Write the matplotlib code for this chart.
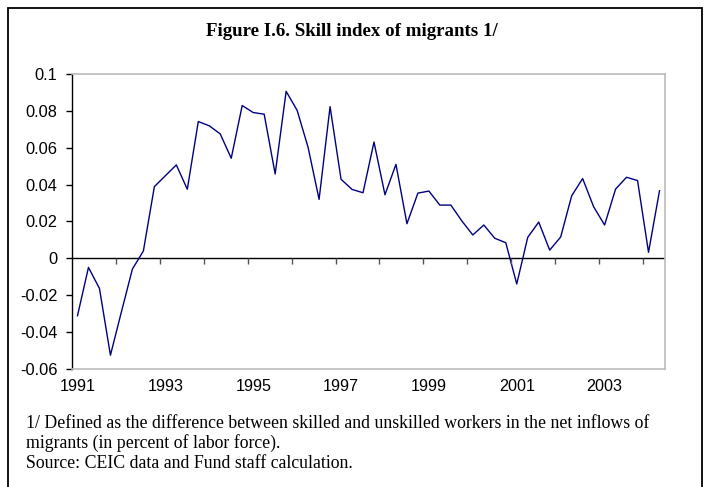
import matplotlib
matplotlib.use("Agg")
import matplotlib.pyplot as plt
from matplotlib.patches import Rectangle
import numpy as np

# Quarterly data 1991Q1 - 2004Q2
values = [
    -0.0311, -0.0049, -0.0163, -0.0525, -0.0290, -0.0058, 0.0040, 0.0389,
    0.0448, 0.0507, 0.0375, 0.0742, 0.0719, 0.0675, 0.0543, 0.0829,
    0.0791, 0.0782, 0.0458, 0.0906, 0.0803, 0.0602, 0.0320, 0.0823,
    0.0429, 0.0374, 0.0356, 0.0631, 0.0345, 0.0510, 0.0188, 0.0354,
    0.0365, 0.0289, 0.0289, 0.0203, 0.0127, 0.0181, 0.0109, 0.0085,
    -0.0139, 0.0114, 0.0197, 0.0045, 0.0116, 0.0339, 0.0433, 0.0280,
    0.0181, 0.0376, 0.0440, 0.0422, 0.0033, 0.0367,
]
year_labels = ["1991", "1993", "1995", "1997", "1999", "2001", "2003"]
y_ticks = [-0.06, -0.04, -0.02, 0, 0.02, 0.04, 0.06, 0.08, 0.1]
y_tick_labels = ["-0.06", "-0.04", "-0.02", "0", "0.02", "0.04", "0.06", "0.08", "0.1"]
title = "Figure I.6. Skill index of migrants 1/"
note1 = "1/ Defined as the difference between skilled and unskilled workers in the net inflows of"
note2 = "migrants (in percent of labor force)."
note3 = "Source: CEIC data and Fund staff calculation."

W, H = 704, 487
fig = plt.figure(figsize=(W / 100, H / 100), dpi=100)
ax = fig.add_axes([72 / W, 1 - 369 / H, (665 - 72) / W, (369 - 74) / H])

n = len(values)
x = np.arange(n)
ax.plot(x, values, color="#000080", lw=1.0)
ax.set_xlim(-0.5, n - 0.5)
ax.set_ylim(-0.06, 0.1)

# zero line with category tick marks (every 4 quarters)
ax.axhline(0, color="black", lw=1.0, zorder=1)
tick_pos = np.arange(3.5, n - 0.5, 4)
ax.plot(tick_pos, np.zeros_like(tick_pos), linestyle="none", marker=3,
        markersize=4.5, markeredgewidth=1.0, color="#555555", clip_on=False)

# x labels every 8 quarters, centered at the first quarter of the year
ax.set_xticks(np.arange(0, n, 8)[:len(year_labels)])
ax.set_xticklabels(year_labels, fontsize=11.6, family="Liberation Sans")
ax.tick_params(axis="x", length=0, pad=7)

ax.set_yticks(y_ticks)
ax.set_yticklabels(y_tick_labels, fontsize=11.8, family="Liberation Sans")
ax.tick_params(axis="y", direction="out", length=4.5, width=1.0, color="black", pad=6)

for side in ["top", "right", "bottom"]:
    ax.spines[side].set_color("#bbbbbb")
    ax.spines[side].set_linewidth(1.2)
ax.spines["left"].set_color("black")
ax.spines["left"].set_linewidth(1.0)

# outer frame
fig.patches.append(Rectangle((8 / W, -0.05), (702 - 8) / W, 1 - 8 / H + 0.05,
                             transform=fig.transFigure, fill=False,
                             edgecolor="black", lw=1.3))

fig.text(352 / W, 1 - 31 / H, title, ha="center", va="center",
         fontsize=13.6, fontweight="bold", family="Liberation Serif")
fig.text(26 / W, 1 - 423 / H, note1, ha="left", va="center",
         fontsize=12.8, family="Liberation Serif")
fig.text(26 / W, 1 - 443 / H, note2, ha="left", va="center",
         fontsize=12.8, family="Liberation Serif")
fig.text(26 / W, 1 - 463 / H, note3, ha="left", va="center",
         fontsize=12.8, family="Liberation Serif")

fig.savefig("out.png", dpi=100)
